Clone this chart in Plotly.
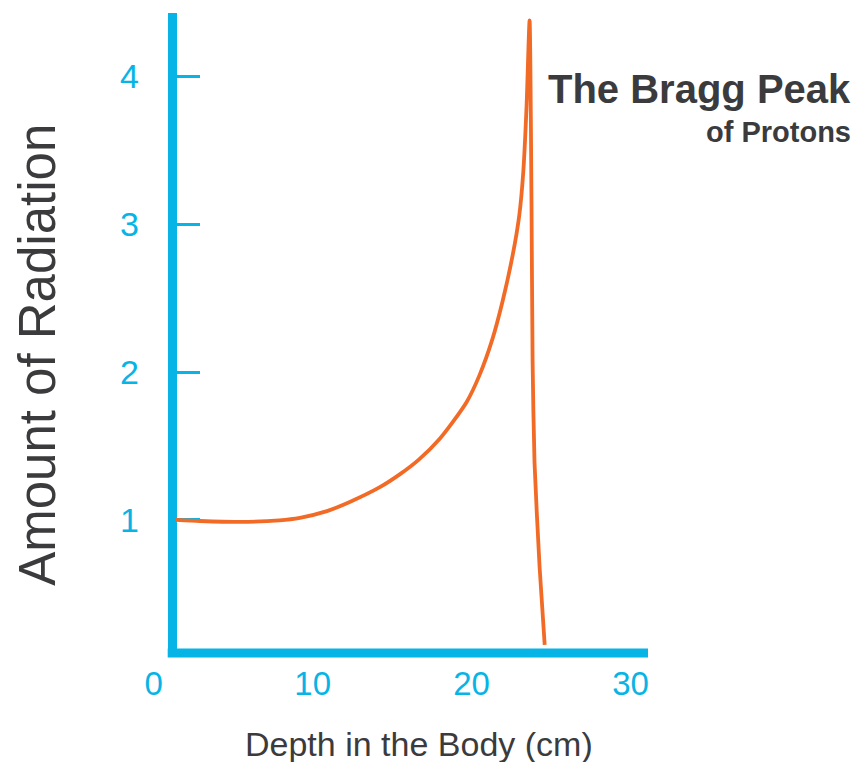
"""Bragg peak of protons: radiation dose against depth."""

import plotly.graph_objects as go

BLUE = "#07B4E6"
ORANGE = "#F26B26"
INK = "#3B3B3D"

# (depth in cm, relative amount of radiation)
depth_cm = [
    1.4, 2.9, 5.4, 7.9, 9.2, 10.9, 12.3, 14.2, 15.5, 16.7, 18.0, 18.8,
    19.7, 20.5, 21.3, 21.95, 22.6, 23.0, 23.25, 23.46, 23.65,
    23.77, 23.84, 23.96, 24.28, 24.6,
]
radiation = [
    1.0, 0.993, 0.987, 0.998, 1.015, 1.06, 1.12, 1.22, 1.31, 1.41, 1.55, 1.66,
    1.80, 1.98, 2.22, 2.48, 2.80, 3.06, 3.35, 3.80, 4.38,
    3.16, 2.07, 1.39, 0.68, 0.155,
]
x_ticks = [0, 10, 20, 30]
x_marks = [10, 20]
y_ticks = [1, 2, 3, 4]

X_RANGE = [-0.8, 31.1]
Y_RANGE = [0.1, 4.43]
Y_AXIS_AT = 1.13

fig = go.Figure()
fig.add_trace(
    go.Scatter(
        x=depth_cm,
        y=radiation,
        mode="lines",
        line={"color": ORANGE, "width": 3.8, "shape": "spline", "smoothing": 0.6},
        hoverinfo="skip",
        showlegend=False,
    )
)

axis_pos = (Y_AXIS_AT - X_RANGE[0]) / (X_RANGE[1] - X_RANGE[0])

# page body adds 8px, so margins are trimmed by that
fig.update_layout(
    width=863,
    height=762,
    margin={"l": 133, "r": 223, "t": 5, "b": 117},
    paper_bgcolor="white",
    plot_bgcolor="white",
    font={"family": "Liberation Sans, Arial, sans-serif", "color": INK},
    xaxis={
        "range": X_RANGE,
        "tickvals": x_ticks,
        "ticks": "",
        "showline": False,
        "showgrid": False,
        "zeroline": False,
        "tickfont": {"size": 33, "color": BLUE},
        "ticklabelstandoff": 8,
    },
    xaxis2={
        "overlaying": "x",
        "matches": "x",
        "anchor": "y",
        "side": "bottom",
        "tickvals": x_marks,
        "ticks": "inside",
        "ticklen": 20,
        "tickwidth": 3,
        "tickcolor": BLUE,
        "showticklabels": False,
        "showline": False,
        "showgrid": False,
        "zeroline": False,
    },
    yaxis={
        "range": Y_RANGE,
        "anchor": "free",
        "position": axis_pos,
        "layer": "below traces",
        "tickvals": y_ticks,
        "ticks": "inside",
        "ticklen": 23,
        "tickwidth": 3,
        "tickcolor": BLUE,
        "showline": True,
        "linewidth": 9,
        "linecolor": BLUE,
        "showgrid": False,
        "zeroline": False,
        "tickfont": {"size": 34, "color": BLUE},
        "ticklabelstandoff": 22,
    },
)

# horizontal axis line, starting at the vertical axis
fig.add_shape(
    type="line",
    xref="x",
    yref="paper",
    x0=Y_AXIS_AT - 0.25,
    x1=X_RANGE[1],
    y0=0,
    y1=0,
    line={"color": BLUE, "width": 9},
)

fig.add_annotation(
    text="Amount of Radiation",
    xref="paper",
    yref="paper",
    x=-0.203,
    y=0.466,
    textangle=-90,
    xanchor="center",
    yanchor="middle",
    showarrow=False,
    font={"size": 51, "color": INK},
)
fig.add_annotation(
    text="Depth in the Body (cm)",
    xref="paper",
    yref="paper",
    x=0.548,
    y=-0.142,
    xanchor="center",
    yanchor="middle",
    showarrow=False,
    font={"size": 34, "color": INK},
)
fig.add_annotation(
    text="<b>The Bragg Peak</b>",
    xref="paper",
    yref="paper",
    x=(853 - 141) / 507,
    y=0.881,
    xanchor="right",
    yanchor="middle",
    showarrow=False,
    font={"size": 40, "color": INK},
)
fig.add_annotation(
    text="<b>of Protons</b>",
    xref="paper",
    yref="paper",
    x=(853 - 141) / 507,
    y=0.814,
    xanchor="right",
    yanchor="middle",
    showarrow=False,
    font={"size": 29, "color": INK},
)

fig.write_html("out.html")
